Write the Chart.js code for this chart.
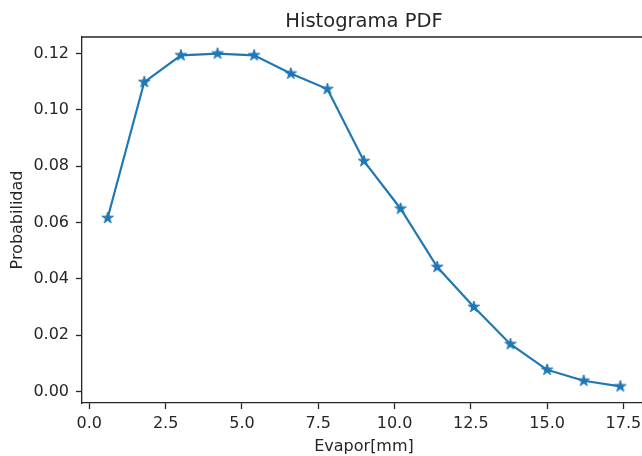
<!DOCTYPE html>
<html>
<head>
<meta charset="utf-8">
<script src="https://cdn.jsdelivr.net/npm/chart.js@4/dist/chart.umd.min.js"></script>
<style>
    html, body { margin: 0; padding: 0; background: #fff; overflow: hidden; width: 642px; height: 456px; }
    canvas { display: block; }
</style>
</head>
<body>
<canvas id="pdfChart" width="660" height="456"></canvas>
<script>
// datos
const evapor = [0.6, 1.8, 3.0, 4.2, 5.4, 6.6, 7.8, 9.0, 10.2, 11.4, 12.6, 13.8, 15.0, 16.2, 17.4];
const probabilidad = [0.0616, 0.1099, 0.1194, 0.1200, 0.1194, 0.1129, 0.1074, 0.0818, 0.0649, 0.0442, 0.0300, 0.0168, 0.0077, 0.0038, 0.0018];
const xTicks = [0.0, 2.5, 5.0, 7.5, 10.0, 12.5, 15.0, 17.5];
const yTicks = [0.00, 0.02, 0.04, 0.06, 0.08, 0.10, 0.12];
const titulo = "Histograma PDF";

const azul = "#1f77b4";
const texto = "#262626";
const fuente = "'DejaVu Sans', sans-serif";

// marcador estrella
function estrella(r) {
    const size = Math.ceil(r * 2 + 2);
    const c = document.createElement("canvas");
    c.width = size;
    c.height = size;
    const ctx = c.getContext("2d");
    const cx = size / 2, cy = size / 2;
    const ri = r * 0.382;
    ctx.beginPath();
    for (let i = 0; i < 10; i++) {
        const rad = i % 2 === 0 ? r : ri;
        const ang = -Math.PI / 2 + i * Math.PI / 5;
        const px = cx + rad * Math.cos(ang);
        const py = cy + rad * Math.sin(ang);
        if (i === 0) ctx.moveTo(px, py); else ctx.lineTo(px, py);
    }
    ctx.closePath();
    ctx.fillStyle = azul;
    ctx.fill();
    ctx.strokeStyle = azul;
    ctx.lineWidth = 1;
    ctx.stroke();
    return c;
}

// bordes superior y derecho + título centrado sobre el área
const marco = {
    id: "marco",
    afterDraw(chart) {
        const { ctx, chartArea: a } = chart;
        ctx.save();
        ctx.strokeStyle = texto;
        ctx.lineWidth = 1.3;
        ctx.beginPath();
        ctx.moveTo(a.left, a.top);
        ctx.lineTo(a.right, a.top);
        ctx.lineTo(a.right, a.bottom);
        ctx.stroke();

        ctx.fillStyle = texto;
        ctx.font = "19.5px " + fuente;
        ctx.textAlign = "center";
        ctx.textBaseline = "alphabetic";
        ctx.fillText(titulo, (a.left + a.right) / 2, a.top - 10);
        ctx.restore();
    }
};

new Chart(document.getElementById("pdfChart"), {
    type: "line",
    data: {
        datasets: [{
            data: evapor.map((x, i) => ({ x: x, y: probabilidad[i] })),
            borderColor: azul,
            borderWidth: 2.2,
            tension: 0,
            fill: false,
            pointStyle: estrella(6),
            pointRadius: 6,
            pointHoverRadius: 6
        }]
    },
    options: {
        responsive: false,
        animation: false,
        devicePixelRatio: 1,
        layout: { padding: { left: 0, right: 14, top: 37, bottom: 0 } },
        plugins: {
            legend: { display: false },
            tooltip: { enabled: false },
            title: { display: false }
        },
        scales: {
            x: {
                type: "linear",
                min: -0.24,
                max: 18.24,
                afterBuildTicks: scale => { scale.ticks = xTicks.map(v => ({ value: v })); },
                afterFit: scale => { scale.height = 53; },
                ticks: {
                    color: texto,
                    font: { family: fuente, size: 16 },
                    padding: 5,
                    maxRotation: 0,
                    callback: v => v.toFixed(1)
                },
                grid: { drawOnChartArea: false, drawTicks: true, tickLength: 6, color: texto, tickWidth: 1.3 },
                border: { display: true, color: texto, width: 1.3 },
                title: {
                    display: true,
                    text: "Evapor[mm]",
                    color: texto,
                    font: { family: fuente, size: 16 },
                    padding: { top: 0, bottom: 0 }
                }
            },
            y: {
                type: "linear",
                min: -0.0041,
                max: 0.1259,
                afterBuildTicks: scale => { scale.ticks = yTicks.map(v => ({ value: v })); },
                afterFit: scale => { scale.width = 82; },
                ticks: {
                    color: texto,
                    font: { family: fuente, size: 16 },
                    padding: 7,
                    callback: v => v.toFixed(2)
                },
                grid: { drawOnChartArea: false, drawTicks: true, tickLength: 6, color: texto, tickWidth: 1.3 },
                border: { display: true, color: texto, width: 1.3 },
                title: {
                    display: true,
                    text: "Probabilidad",
                    color: texto,
                    font: { family: fuente, size: 16 },
                    padding: { top: 8, bottom: 0 }
                }
            }
        }
    },
    plugins: [marco]
});
</script>
</body>
</html>
